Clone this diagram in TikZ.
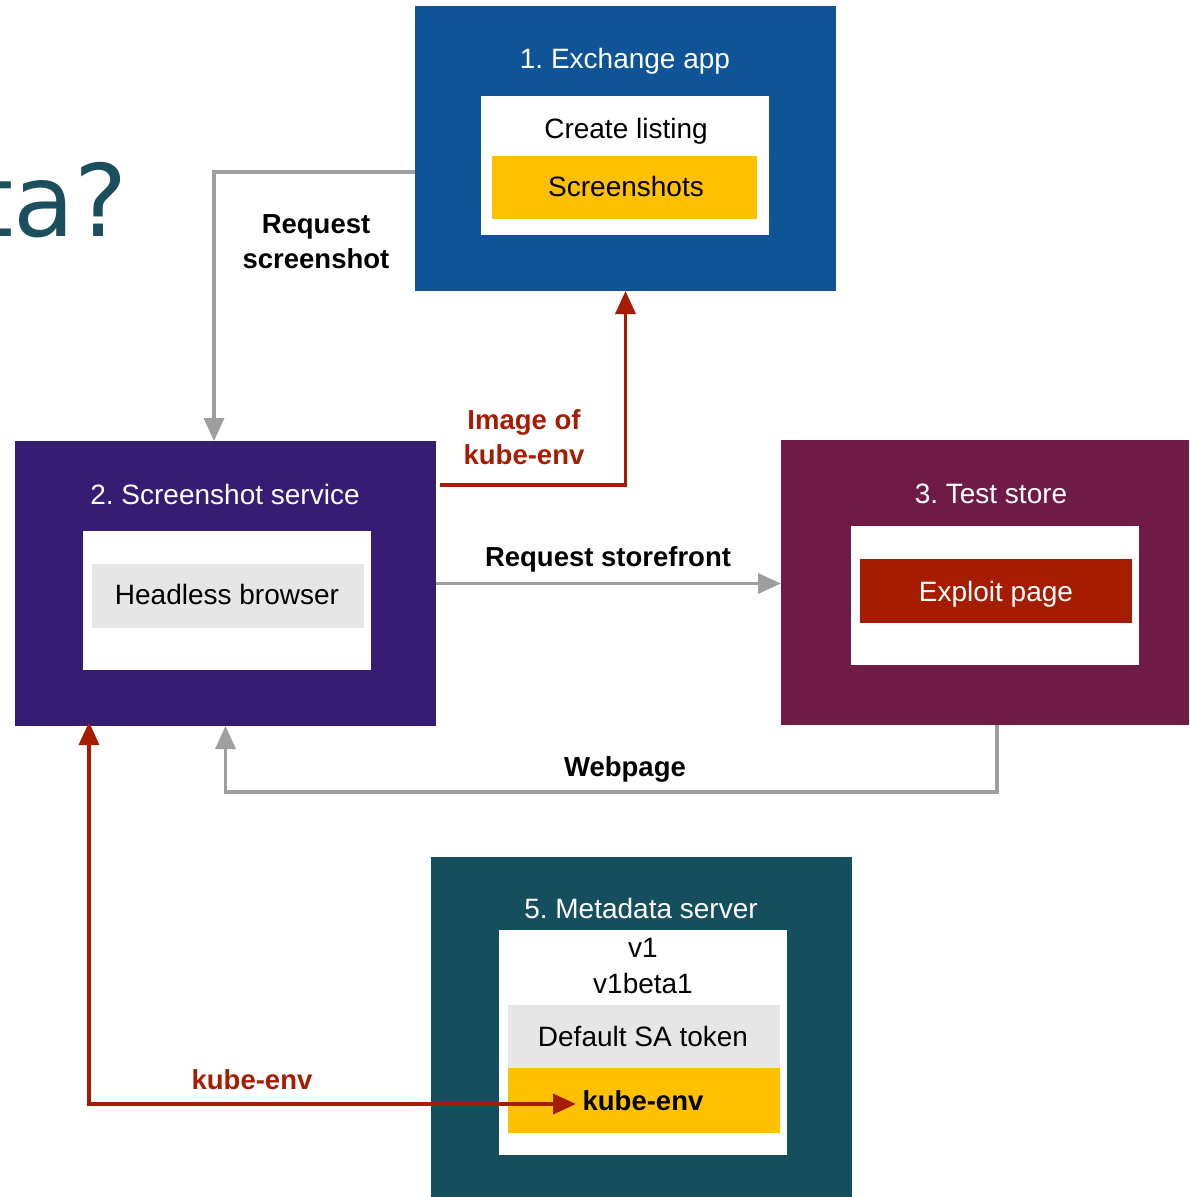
\documentclass[tikz,border=0pt]{standalone}
\usepackage{fontspec}
\setmainfont{Liberation Sans}
\newfontfamily\headfont{DejaVu Sans}
\usetikzlibrary{arrows.meta}
\frenchspacing

\definecolor{exblue}{HTML}{0F5497}
\definecolor{svcpurple}{HTML}{371C74}
\definecolor{storemaroon}{HTML}{701B46}
\definecolor{metateal}{HTML}{154F5E}
\definecolor{hiyellow}{HTML}{FFC000}
\definecolor{alertred}{HTML}{A61C00}
\definecolor{softgray}{HTML}{E6E6E6}
\definecolor{linkgray}{HTML}{9E9E9E}
\definecolor{headteal}{HTML}{1B4F5E}

\begin{document}
\begin{tikzpicture}[x=1pt,y=-1pt,
  panel/.style={rectangle, draw=none, inner sep=0pt, outer sep=0pt, anchor=north west},
  txt/.style={inner sep=0pt, anchor=base, font=\fontsize{28}{34}\selectfont},
  boldtxt/.style={inner sep=0pt, font=\fontsize{27.5}{35}\selectfont\bfseries, align=center},
  grayflow/.style={draw=linkgray, line width=3.5pt, -{Triangle[length=23pt,width=20pt]}},
  redflow/.style={draw=alertred, line width=3.5pt, -{Triangle[length=23pt,width=20pt]}},
]
\useasboundingbox (0,0) rectangle (1189,1197);

% slide heading, cut off by the page edge
\begin{scope}
  \clip (0,0) rectangle (1189,1197);
  \node[inner sep=0pt, anchor=base east, text=headteal, font=\headfont\fontsize{100}{110}\selectfont] (head) at (128,236) {ta?};
\end{scope}

% 1. Exchange app
\node[panel, fill=exblue, minimum width=421pt, minimum height=285pt] (ex) at (415,6) {};
\node[txt, text=white] (extitle) at (625,68) {1. Exchange app};
\node[panel, fill=white, minimum width=288pt, minimum height=139pt] (exin) at (481,96) {};
\node[txt] (listing) at (626,138) {Create listing};
\node[panel, fill=hiyellow, minimum width=265pt, minimum height=63pt] (shots) at (492,156) {};
\node[txt] (shotstxt) at (626,196) {Screenshots};

% 2. Screenshot service
\node[panel, fill=svcpurple, minimum width=421pt, minimum height=285pt] (ss) at (15,441) {};
\node[txt, text=white] (sstitle) at (225,504) {2. Screenshot service};
\node[panel, fill=white, minimum width=288pt, minimum height=139pt] (ssin) at (83,531) {};
\node[panel, fill=softgray, minimum width=272pt, minimum height=64pt] (hb) at (92,564) {};
\node[txt] (hbtxt) at (227,604) {Headless browser};

% 3. Test store
\node[panel, fill=storemaroon, minimum width=408pt, minimum height=285pt] (ts) at (781,440) {};
\node[txt, text=white] (tstitle) at (991,503) {3. Test store};
\node[panel, fill=white, minimum width=288pt, minimum height=139pt] (tsin) at (851,526) {};
\node[panel, fill=alertred, minimum width=272pt, minimum height=64pt] (xp) at (860,559) {};
\node[txt, text=white] (xptxt) at (996,601) {Exploit page};

% 5. Metadata server
\node[panel, fill=metateal, minimum width=421pt, minimum height=340pt] (md) at (431,857) {};
\node[txt, text=white] (mdtitle) at (641,918) {5. Metadata server};
\node[panel, fill=white, minimum width=288pt, minimum height=225pt] (mdin) at (499,930) {};
\node[txt] (vone) at (643,957) {v1};
\node[txt] (vbeta) at (643,993) {v1beta1};
\node[panel, fill=softgray, minimum width=272pt, minimum height=63pt] (sa) at (508,1005) {};
\node[txt] (satxt) at (643,1046) {Default SA token};
\node[panel, fill=hiyellow, minimum width=272pt, minimum height=65pt] (kb) at (508,1068) {};
\node[txt, font=\fontsize{27.5}{34}\selectfont\bfseries] (kbtxt) at (643,1110) {kube-env};

% connectors
\draw[grayflow] ([yshift=-23.5pt]ex.west) -| ([xshift=-11.5pt]ss.north);
\node[boldtxt] (lblreq) at (316,242) {Request\\screenshot};

\draw[redflow] ([shift={(4pt,-44pt)}]ss.north east) -| (ex.south);
\node[boldtxt, text=alertred] (lblimg) at (524,437) {Image of\\kube-env};

\draw[grayflow] (ss.east) -- (ts.west |- ss.east);
\node[boldtxt, anchor=base] (lblstore) at (608,566) {Request storefront};

\draw[grayflow] ([xshift=12pt]ts.south) -- ++(0,67) -| (ss.south);
\node[boldtxt, anchor=base] (lblweb) at (625,776) {Webpage};

\draw[draw=alertred, line width=3.5pt, {Triangle[length=23pt,width=20pt]}-{Triangle[length=23pt,width=20pt]}]
  ([xshift=74pt,yshift=4pt]ss.south west) |- ([shift={(68pt,-3.5pt)}]kb.west);
\node[boldtxt, anchor=base, text=alertred] (lblkube) at (252,1089) {kube-env};
\end{tikzpicture}
\end{document}
